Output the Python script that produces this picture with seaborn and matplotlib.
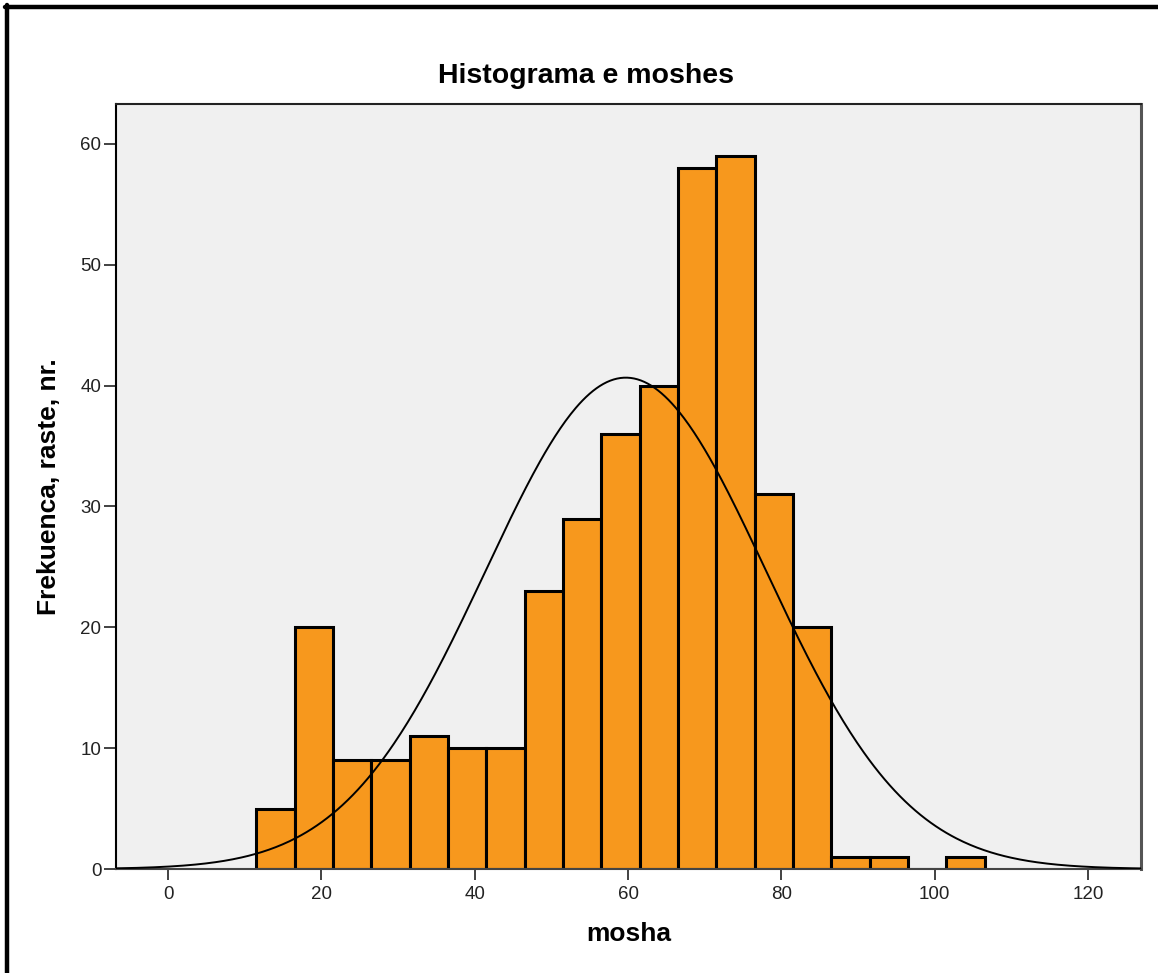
import numpy as np
import pandas as pd
import matplotlib
matplotlib.use("Agg")
import matplotlib.pyplot as plt
import seaborn as sns

# Data
age_bin_mid = [14, 19, 24, 29, 34, 39, 44, 49, 54, 59, 64, 69, 74, 79, 84, 89, 94, 99, 104]
frequency = [5, 20, 9, 9, 11, 10, 10, 23, 29, 36, 40, 58, 59, 31, 20, 1, 1, 0, 1]
bin_width = 5
normal_mean = 59.7
normal_sd = 18.3
x_ticks = [0, 20, 40, 60, 80, 100, 120]
y_ticks = [0, 10, 20, 30, 40, 50, 60]

title = "Histograma e moshes"
xlabel = "mosha"
ylabel = "Frekuenca, raste, nr."

sns.set_style("white")
plt.rcParams["font.family"] = ["Liberation Sans", "DejaVu Sans"]

W, H = 1158, 973
fig = plt.figure(figsize=(W / 100, H / 100), dpi=100)
ax = fig.add_axes([116 / W, 1 - 869 / H, (1141 - 116) / W, (869 - 104) / H])
ax.set_facecolor("#f0f0f0")

df = pd.DataFrame({"mosha": age_bin_mid, "n": frequency})
lo = age_bin_mid[0] - bin_width / 2
hi = age_bin_mid[-1] + bin_width / 2
sns.histplot(data=df, x="mosha", weights="n", binwidth=bin_width, binrange=(lo, hi), ax=ax,
             color="#f7981d", alpha=1, edgecolor="black", linewidth=2.2, zorder=2)

n_total = sum(frequency)
xs = np.linspace(-7, 127, 600)
ys = n_total * bin_width / (normal_sd * np.sqrt(2 * np.pi)) * np.exp(-0.5 * ((xs - normal_mean) / normal_sd) ** 2)
sns.lineplot(x=xs, y=ys, ax=ax, color="black", linewidth=1.4, zorder=3)

ax.set_xlim(-6.8, 126.9)
ax.set_ylim(0, 63.3)
ax.set_xticks(x_ticks)
ax.set_yticks(y_ticks)
ax.tick_params(axis="x", direction="out", length=8, width=1.3, color="#333333",
               labelsize=13.5, labelcolor="#222222", bottom=True, pad=4)
ax.tick_params(axis="y", direction="out", length=9, width=1.3, color="#333333",
               labelsize=13.5, labelcolor="#222222", left=True, pad=1.5)
for s in ax.spines.values():
    s.set_color("#222222")
    s.set_linewidth(1.5)
ax.spines["left"].set_color("black")
ax.spines["bottom"].set_color("#444444")
ax.spines["right"].set_color("#555555")
ax.spines["right"].set_linewidth(2.2)

fig.text(586 / W, 1 - 76 / H, title, fontsize=20.5, fontweight="bold",
         ha="center", va="center", color="black")
ax.set_xlabel(xlabel, fontsize=19, fontweight="bold", color="black")
ax.set_ylabel(ylabel, fontsize=19, fontweight="bold", color="black")
ax.xaxis.label.set_va("center")
ax.yaxis.label.set_va("center")
ax.xaxis.set_label_coords(0.5, (869 - 934) / 765)
ax.yaxis.set_label_coords((49 - 116) / 1025, 0.5)

# Outer frame (left and top edges, as in the reference)
fig.add_artist(plt.Line2D([7.5 / W, 7.5 / W], [0, 1 - 5 / H], transform=fig.transFigure,
                          color="black", linewidth=3.2))
fig.add_artist(plt.Line2D([5 / W, 1], [1 - 7 / H, 1 - 7 / H], transform=fig.transFigure,
                          color="black", linewidth=3.2))

fig.savefig("out.png", dpi=100)
